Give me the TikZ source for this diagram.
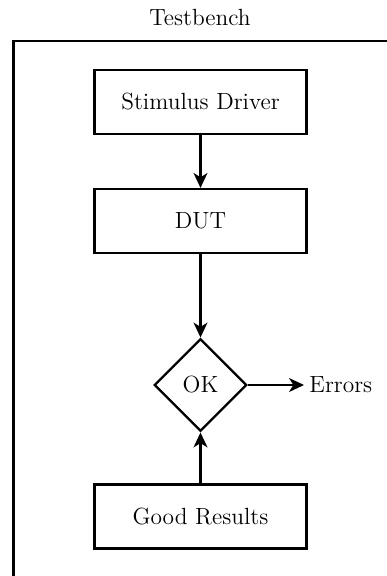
\documentclass[tikz,border=0pt]{standalone}
\usepackage{tikz}
\usetikzlibrary{arrows.meta, shapes.geometric}

\begin{document}
\begin{tikzpicture}[x=0.47pt, y=-0.47pt, line width=1.1pt,
  font=\fontsize{11}{13}\selectfont,
  block/.style={draw, rectangle, minimum width=99.6pt, minimum height=30pt},
  check/.style={draw, diamond, minimum width=43.5pt, minimum height=43.5pt, inner sep=0pt},
  flow/.style={-{Stealth[length=7pt, width=6.5pt, inset=2pt]}}]
\useasboundingbox (0,0) rectangle (387,576);

% Frame
\node (title) at (200,17) {Testbench};
\draw (13.5,576) -- (13.5,41) -- (387,41);

% Blocks
\node[block] (drv) at (200.5,102) {Stimulus Driver};
\node[block] (dut) at (200.5,221) {DUT};
\node[check] (ok) at (200.5,385) {OK};
\node[anchor=west, inner sep=2pt] (err) at (304,385) {Errors};
\node[block] (good) at (200.5,516.5) {Good Results};

% Connections
\draw[flow] (drv) -- (dut);
\draw[flow] (dut) -- (ok);
\draw[flow] (ok) -- (err);
\draw[flow] (good) -- (ok);

\end{tikzpicture}
\end{document}
